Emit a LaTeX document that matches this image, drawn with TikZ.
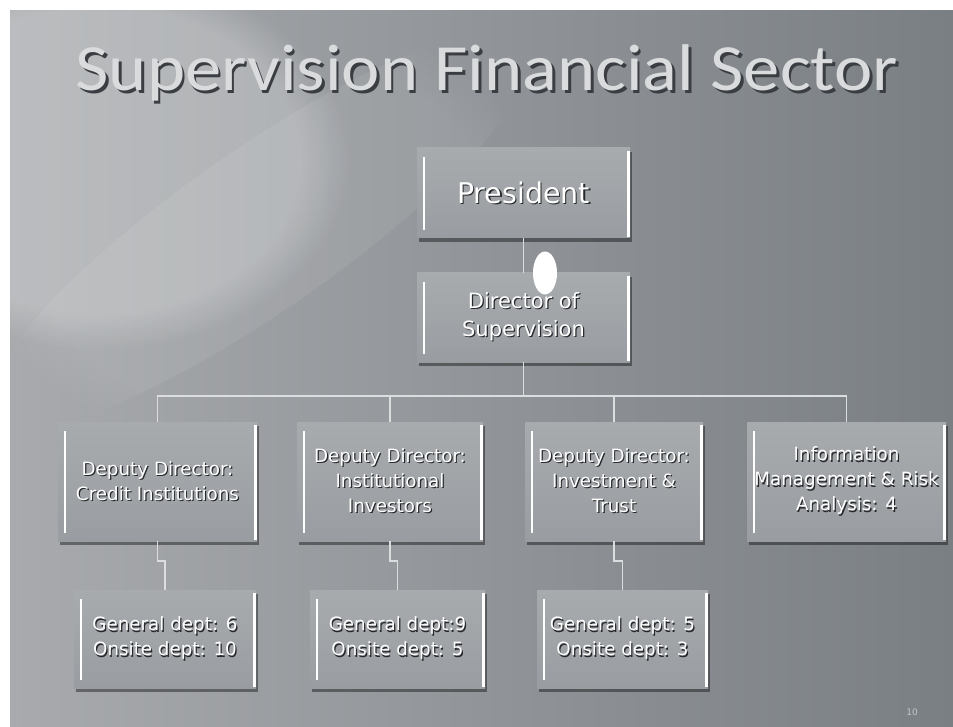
\documentclass[tikz,border=0pt]{standalone}
\usepackage{fontspec}
\setmainfont{DejaVu Sans}
\newfontfamily\titlefont{Carlito}
\usetikzlibrary{shadows,fadings,shapes.geometric}

\definecolor{bgleft}{HTML}{A8AAAD}
\definecolor{bgright}{HTML}{7A7F84}
\definecolor{boxtop}{HTML}{A8ABAE}
\definecolor{boxbot}{HTML}{999DA1}
\definecolor{linkgray}{HTML}{DCDDDE}
\definecolor{txtshadow}{HTML}{26282B}
\definecolor{titlegray}{HTML}{D9DBDD}
\definecolor{titleshadow}{HTML}{3A3D41}
\definecolor{pagegray}{HTML}{C4C6C8}

% white text with a dark offset copy underneath
\newcommand\shl[1]{\leavevmode\rlap{\kern1.2pt\raisebox{-1.2pt}{\textcolor{txtshadow}{#1}}}#1}
\newcommand\embossed[1]{\leavevmode\rlap{\kern2.4pt\raisebox{-2.4pt}{\textcolor{titleshadow}{#1}}}#1}

\tikzset{
  orgbox/.style={rectangle, inner sep=0pt, top color=boxtop, bottom color=boxbot,
    text=white, align=center,
    drop shadow={shadow xshift=2pt, shadow yshift=-4pt, opacity=0.4, fill=black},
    path picture={
      \draw[white, line width=2.2pt]
        ([xshift=7pt,yshift=-9pt]path picture bounding box.north west) --
        ([xshift=7pt,yshift=8pt]path picture bounding box.south west);
      \draw[white, line width=3pt]
        ([xshift=-2pt,yshift=-3pt]path picture bounding box.north east) --
        ([xshift=-2pt,yshift=1pt]path picture bounding box.south east);
    }},
  boxtext/.style={font=\fontsize{18.3}{25}\selectfont},
  link/.style={draw=linkgray, line width=1.5pt},
}

\begin{document}
\begin{tikzpicture}[x=1pt,y=-1pt]
\useasboundingbox (0,0) rectangle (953,727);
\fill[white] (0,0) rectangle (953,727);

% slide background
\shade[left color=bgleft, right color=bgright] (10,11) rectangle (953,727);
\begin{scope}
  \clip (10,11) rectangle (953,727);
  \fill[white, fill opacity=0.22, path fading=circle with fuzzy edge 20 percent]
    (100,160) ellipse (250 and 190);
  \fill[white, fill opacity=0.07, path fading=circle with fuzzy edge 20 percent,
    rotate around={35:(260,230)}] (260,230) ellipse (330 and 80);
\end{scope}

% title
\node[font=\titlefont\fontsize{66}{70}\selectfont, xscale=1.1, text=titlegray,
  anchor=base, inner sep=0pt] (title) at (487,91)
  {\embossed{Supervision Financial Sector}};

% boxes
\node[orgbox, minimum width=213pt, minimum height=90pt,
  font=\fontsize{28.5}{32}\selectfont] (pres) at (523.5,193) {\shl{President}};
\node[orgbox, minimum width=213pt, minimum height=89pt,
  font=\fontsize{21}{28}\selectfont] (dir) at (523.5,317.5)
  {\shl{Director of}\\\shl{Supervision}};

\node[orgbox, boxtext, minimum width=199pt, minimum height=119pt] (d1) at (157.5,481.5)
  {\shl{Deputy Director:}\\\shl{Credit Institutions}};
\node[orgbox, boxtext, minimum width=186pt, minimum height=119pt] (d2) at (390,481.5)
  {\shl{Deputy Director:}\\\shl{Institutional}\\\shl{Investors}};
\node[orgbox, boxtext, minimum width=178pt, minimum height=119pt] (d3) at (614,481.5)
  {\shl{Deputy Director:}\\\shl{Investment \&}\\\shl{Trust}};
\node[orgbox, boxtext, minimum width=199pt, minimum height=119pt] (d4) at (846.5,481.5)
  {\shl{Information}\\\shl{Management \& Risk}\\\shl{Analysis: 4}};

\node[orgbox, boxtext, minimum width=182pt, minimum height=98pt] (g1) at (165,639)
  {\shl{General dept: 6}\\\shl{Onsite dept: 10}};
\node[orgbox, boxtext, minimum width=175pt, minimum height=98pt] (g2) at (397.5,639)
  {\shl{General dept:9}\\\shl{Onsite dept: 5}};
\node[orgbox, boxtext, minimum width=171pt, minimum height=98pt] (g3) at (622.5,639)
  {\shl{General dept: 5}\\\shl{Onsite dept: 3}};

% connectors
\coordinate (bus) at (0,396);
\coordinate (jog) at (0,561);
\draw[link] (pres.south) -- (dir.north);
\draw[link] (dir.south) -- (dir.south |- bus);
\draw[link] (d1.north) -- (d1.north |- bus) -- (d4.north |- bus) -- (d4.north);
\draw[link] (d2.north) -- (d2.north |- bus);
\draw[link] (d3.north) -- (d3.north |- bus);
\draw[link] (d1.south) -- (d1.south |- jog) -- (g1.north |- jog) -- (g1.north);
\draw[link] (d2.south) -- (d2.south |- jog) -- (g2.north |- jog) -- (g2.north);
\draw[link] (d3.south) -- (d3.south |- jog) -- (g3.north |- jog) -- (g3.north);

% white knob between the two top boxes
\node[ellipse, fill=white, minimum width=24pt, minimum height=43pt, inner sep=0pt]
  (knob) at (545,273) {};

% page number
\node[font=\fontsize{9}{10}\selectfont, text=pagegray] (pnum) at (912,712) {10};
\end{tikzpicture}
\end{document}
